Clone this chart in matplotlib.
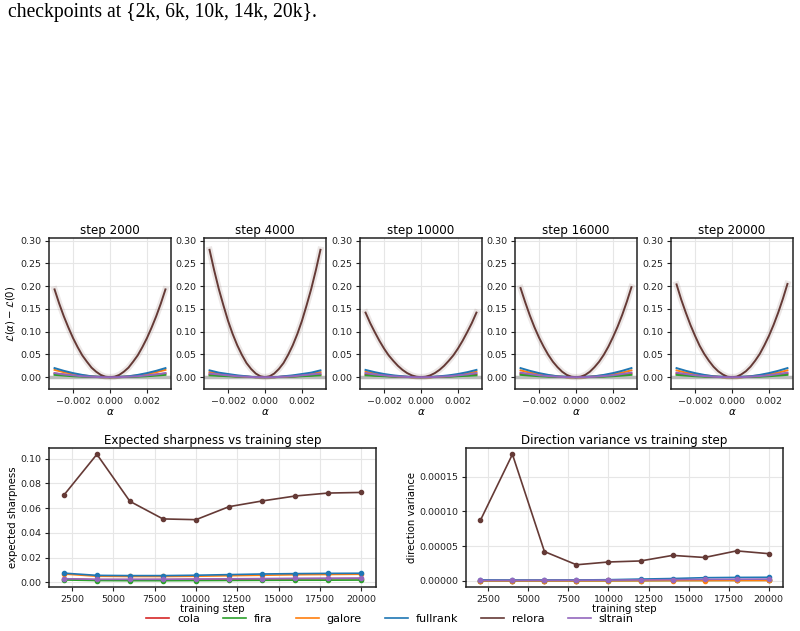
import matplotlib
matplotlib.use("Agg")
import matplotlib.pyplot as plt

methods = ["cola", "fira", "galore", "fullrank", "relora", "sltrain"]
colors = {
    "cola": "#d62728",
    "fira": "#2ca02c",
    "galore": "#ff7f0e",
    "fullrank": "#1f77b4",
    "relora": "#653a36",
    "sltrain": "#9467bd",
}

# alpha grids for the loss-landscape slices (relora is read on a finer grid)
alphas = [-0.003, -0.0025, -0.002, -0.0015, -0.001, -0.0005, 0.0,
          0.0005, 0.001, 0.0015, 0.002, 0.0025, 0.003]
alphas_fine = [-0.003, -0.00275, -0.0025, -0.00225, -0.002, -0.00175, -0.0015,
               -0.00125, -0.001, -0.00075, -0.0005, -0.00025, 0.0,
               0.00025, 0.0005, 0.00075, 0.001, 0.00125, 0.0015,
               0.00175, 0.002, 0.00225, 0.0025, 0.00275, 0.003]

slice_steps = [2000, 4000, 10000, 16000, 20000]

relora_slices = [
    [0.193, 0.162, 0.134, 0.109, 0.086, 0.066, 0.048, 0.034, 0.021, 0.012, 0.005, 0.001, 0.0,
     0.001, 0.005, 0.012, 0.021, 0.034, 0.048, 0.066, 0.086, 0.109, 0.134, 0.162, 0.193],
    [0.280, 0.235, 0.194, 0.158, 0.124, 0.095, 0.070, 0.049, 0.031, 0.018, 0.008, 0.002, 0.0,
     0.002, 0.008, 0.018, 0.031, 0.049, 0.070, 0.095, 0.124, 0.158, 0.194, 0.235, 0.280],
    [0.142, 0.119, 0.099, 0.080, 0.063, 0.048, 0.036, 0.025, 0.016, 0.009, 0.004, 0.001, 0.0,
     0.001, 0.004, 0.009, 0.016, 0.025, 0.036, 0.048, 0.063, 0.080, 0.099, 0.119, 0.142],
    [0.196, 0.165, 0.136, 0.110, 0.087, 0.067, 0.049, 0.034, 0.022, 0.012, 0.005, 0.001, 0.0,
     0.001, 0.005, 0.012, 0.022, 0.034, 0.049, 0.067, 0.088, 0.111, 0.137, 0.166, 0.198],
    [0.204, 0.171, 0.142, 0.115, 0.091, 0.069, 0.051, 0.036, 0.023, 0.013, 0.006, 0.001, 0.0,
     0.001, 0.006, 0.013, 0.023, 0.036, 0.051, 0.070, 0.091, 0.115, 0.142, 0.172, 0.205],
]

curves_2000 = {
    "cola":     [0.008, 0.006, 0.004, 0.002, 0.001, 0.000, 0.0, 0.000, 0.001, 0.002, 0.004, 0.006, 0.008],
    "fira":     [0.005, 0.0035, 0.002, 0.001, 0.0005, 0.000, 0.0, 0.000, 0.0005, 0.001, 0.002, 0.0035, 0.005],
    "galore":   [0.016, 0.011, 0.007, 0.004, 0.002, 0.0004, 0.0, 0.0004, 0.002, 0.004, 0.007, 0.011, 0.016],
    "fullrank": [0.020, 0.014, 0.009, 0.005, 0.002, 0.001, 0.0, 0.001, 0.002, 0.005, 0.009, 0.014, 0.020],
    "sltrain":  [0.009, 0.006, 0.004, 0.002, 0.001, 0.000, 0.0, 0.000, 0.001, 0.002, 0.004, 0.006, 0.009],
}
curves_4000 = {
    "cola":     [0.006, 0.004, 0.003, 0.0015, 0.001, 0.000, 0.0, 0.000, 0.001, 0.0015, 0.003, 0.004, 0.006],
    "fira":     [0.004, 0.003, 0.002, 0.001, 0.0004, 0.000, 0.0, 0.000, 0.0004, 0.001, 0.002, 0.003, 0.004],
    "galore":   [0.011, 0.008, 0.005, 0.003, 0.001, 0.000, 0.0, 0.000, 0.001, 0.003, 0.005, 0.008, 0.011],
    "fullrank": [0.015, 0.010, 0.007, 0.004, 0.002, 0.000, 0.0, 0.000, 0.002, 0.004, 0.007, 0.010, 0.015],
    "sltrain":  [0.008, 0.006, 0.004, 0.002, 0.001, 0.000, 0.0, 0.000, 0.001, 0.002, 0.004, 0.006, 0.008],
}
curves_10000 = {
    "cola":     [0.006, 0.004, 0.003, 0.0015, 0.001, 0.000, 0.0, 0.000, 0.001, 0.0015, 0.003, 0.004, 0.006],
    "fira":     [0.004, 0.003, 0.002, 0.001, 0.0004, 0.000, 0.0, 0.000, 0.0004, 0.001, 0.002, 0.003, 0.004],
    "galore":   [0.012, 0.008, 0.005, 0.003, 0.001, 0.000, 0.0, 0.000, 0.001, 0.003, 0.005, 0.008, 0.012],
    "fullrank": [0.016, 0.011, 0.007, 0.004, 0.002, 0.0004, 0.0, 0.0004, 0.002, 0.004, 0.007, 0.011, 0.016],
    "sltrain":  [0.009, 0.006, 0.004, 0.002, 0.001, 0.000, 0.0, 0.000, 0.001, 0.002, 0.004, 0.006, 0.009],
}
curves_16000 = {
    "cola":     [0.008, 0.006, 0.004, 0.002, 0.001, 0.000, 0.0, 0.000, 0.001, 0.002, 0.004, 0.006, 0.008],
    "fira":     [0.005, 0.0035, 0.002, 0.001, 0.0005, 0.000, 0.0, 0.000, 0.0005, 0.001, 0.002, 0.0035, 0.005],
    "galore":   [0.015, 0.010, 0.007, 0.004, 0.002, 0.000, 0.0, 0.000, 0.002, 0.004, 0.007, 0.010, 0.015],
    "fullrank": [0.020, 0.014, 0.009, 0.005, 0.002, 0.001, 0.0, 0.001, 0.002, 0.005, 0.009, 0.014, 0.020],
    "sltrain":  [0.010, 0.007, 0.004, 0.0025, 0.001, 0.000, 0.0, 0.000, 0.001, 0.0025, 0.004, 0.007, 0.010],
}
curves_20000 = {
    "cola":     [0.008, 0.006, 0.004, 0.002, 0.001, 0.000, 0.0, 0.000, 0.001, 0.002, 0.004, 0.006, 0.008],
    "fira":     [0.005, 0.0035, 0.002, 0.001, 0.0005, 0.000, 0.0, 0.000, 0.0005, 0.001, 0.002, 0.0035, 0.005],
    "galore":   [0.015, 0.010, 0.007, 0.004, 0.002, 0.000, 0.0, 0.000, 0.002, 0.004, 0.007, 0.010, 0.015],
    "fullrank": [0.020, 0.014, 0.009, 0.005, 0.002, 0.001, 0.0, 0.001, 0.002, 0.005, 0.009, 0.014, 0.020],
    "sltrain":  [0.010, 0.007, 0.004, 0.0025, 0.001, 0.000, 0.0, 0.000, 0.001, 0.0025, 0.004, 0.007, 0.010],
}
slice_curves = [curves_2000, curves_4000, curves_10000, curves_16000, curves_20000]

# training curves
steps = [2000, 4000, 6000, 8000, 10000, 12000, 14000, 16000, 18000, 20000]

sharpness = {
    "cola":     [0.0028, 0.0022, 0.0022, 0.0023, 0.0024, 0.0026, 0.0028, 0.0029, 0.0030, 0.0031],
    "fira":     [0.0020, 0.0015, 0.0014, 0.0014, 0.0015, 0.0016, 0.0017, 0.0018, 0.0018, 0.0019],
    "galore":   [0.0068, 0.0050, 0.0048, 0.0048, 0.0050, 0.0054, 0.0058, 0.0062, 0.0064, 0.0066],
    "fullrank": [0.0075, 0.0057, 0.0055, 0.0055, 0.0058, 0.0063, 0.0068, 0.0071, 0.0073, 0.0074],
    "relora":   [0.0705, 0.1035, 0.0655, 0.0513, 0.0507, 0.0612, 0.0658, 0.0698, 0.0722, 0.0727],
    "sltrain":  [0.0030, 0.0025, 0.0025, 0.0025, 0.0027, 0.0029, 0.0031, 0.0033, 0.0034, 0.0035],
}

dir_variance = {
    "cola":     [0.2e-6, 0.2e-6, 0.3e-6, 0.3e-6, 0.4e-6, 0.6e-6, 0.8e-6, 1.0e-6, 1.2e-6, 1.3e-6],
    "fira":     [0.1e-6, 0.1e-6, 0.1e-6, 0.2e-6, 0.2e-6, 0.3e-6, 0.4e-6, 0.5e-6, 0.6e-6, 0.7e-6],
    "galore":   [0.1e-6, 0.1e-6, 0.1e-6, 0.1e-6, 0.2e-6, 0.2e-6, 0.3e-6, 0.3e-6, 0.4e-6, 0.4e-6],
    "fullrank": [1.2e-6, 1.0e-6, 1.0e-6, 1.1e-6, 1.5e-6, 2.4e-6, 3.2e-6, 4.4e-6, 4.8e-6, 5.0e-6],
    "relora":   [8.7e-5, 18.2e-5, 4.2e-5, 2.3e-5, 2.7e-5, 2.85e-5, 3.65e-5, 3.35e-5, 4.3e-5, 3.9e-5],
    "sltrain":  [0.5e-6, 0.5e-6, 0.6e-6, 0.7e-6, 0.9e-6, 1.2e-6, 1.6e-6, 2.0e-6, 2.2e-6, 2.4e-6],
}

plt.rcParams["font.family"] = "DejaVu Sans"
plt.rcParams["axes.edgecolor"] = "#222222"
plt.rcParams["axes.linewidth"] = 1.1
plt.rcParams["xtick.labelsize"] = 6.8
plt.rcParams["ytick.labelsize"] = 6.8
plt.rcParams["xtick.major.pad"] = 2.5
plt.rcParams["ytick.major.pad"] = 2.5
plt.rcParams["xtick.major.size"] = 3
plt.rcParams["ytick.major.size"] = 3
plt.rcParams["xtick.color"] = "#222222"
plt.rcParams["ytick.color"] = "#222222"

W, H = 800, 631
fig = plt.figure(figsize=(8, 6.31), dpi=100)


def px_axes(x0, y0, x1, y1):
    return fig.add_axes([x0 / W, 1 - y1 / H, (x1 - x0) / W, (y1 - y0) / H])


fig.text(8 / W, 1 - 17 / H, "checkpoints at {2k, 6k, 10k, 14k, 20k}.",
         family="Liberation Serif", fontsize=14.1, va="baseline", ha="left")

# top row: loss slices
lefts = [49, 204, 360, 515, 671]
for i, (step, curves) in enumerate(zip(slice_steps, slice_curves)):
    ax = px_axes(lefts[i], 238, lefts[i] + 122, 389)
    ax.axhline(0, color="#bbbbbb", linewidth=2.5, zorder=1)
    for m in methods:
        if m == "relora":
            ax.plot(alphas_fine, relora_slices[i], color=colors[m], linewidth=4.5,
                    alpha=0.12, zorder=2)
            ax.plot(alphas_fine, relora_slices[i], color=colors[m], linewidth=1.4, zorder=3)
        else:
            ax.plot(alphas, curves[m], color=colors[m], linewidth=1.4, zorder=3)
    ax.set_ylim(-0.026, 0.306)
    ax.set_yticks([0.0, 0.05, 0.10, 0.15, 0.20, 0.25, 0.30])
    ax.set_xticks([-0.002, 0.0, 0.002])
    ax.grid(True, color="#e6e6e6", linewidth=0.8)
    ax.set_axisbelow(True)
    ax.set_title(f"step {step}", fontsize=8.6, pad=3)
    ax.set_xlabel(r"$\alpha$", fontsize=7.5, labelpad=1)
    if i == 0:
        ax.set_ylabel(r"$\mathcal{L}(\alpha) - \mathcal{L}(0)$", fontsize=7.3, labelpad=2)

# bottom row
ax1 = px_axes(49, 448, 376, 587)
ax2 = px_axes(466, 448, 783, 587)

for ax, data, title, ylabel in [
    (ax1, sharpness, "Expected sharpness vs training step", "expected sharpness"),
    (ax2, dir_variance, "Direction variance vs training step", "direction variance"),
]:
    for m in methods:
        ax.plot(steps, data[m], color=colors[m], linewidth=1.2, marker="o",
                markersize=3, label=m)
    ax.set_title(title, fontsize=8.6, pad=3)
    ax.set_xlabel("training step", fontsize=7.3, labelpad=0)
    ax.set_ylabel(ylabel, fontsize=7.3, labelpad=2)
    ax.set_xticks([2500, 5000, 7500, 10000, 12500, 15000, 17500, 20000])
    ax.grid(True, color="#e6e6e6", linewidth=0.8)
    ax.set_axisbelow(True)

ax1.set_yticks([0.0, 0.02, 0.04, 0.06, 0.08, 0.10])
ax1.set_yticklabels(["0.00", "0.02", "0.04", "0.06", "0.08", "0.10"])
ax2.set_yticks([0.0, 0.00005, 0.0001, 0.00015])
ax2.set_yticklabels(["0.00000", "0.00005", "0.00010", "0.00015"])

handles = [plt.Line2D([], [], color=colors[m], linewidth=1.2) for m in methods]
fig.legend(handles, methods, loc="center", bbox_to_anchor=(390 / W, 1 - 619 / H),
           ncol=6, frameon=False, fontsize=8, handlelength=2.07,
           columnspacing=2.07, handletextpad=0.72, borderaxespad=0,
           borderpad=0)

fig.savefig("out.png", dpi=100)
